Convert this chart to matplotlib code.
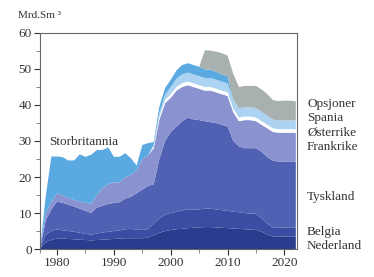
import matplotlib.pyplot as plt
import numpy as np

years = np.arange(1977, 2023)

# stacked values in Mrd. Sm3 (layer thickness)
nederland = [0, 2, 2.5, 3, 2.9, 2.8, 2.7, 2.6, 2.5, 2.4, 2.5, 2.6, 2.7, 2.8, 2.9, 3.0, 3.0, 3.0, 3.0, 3.2,
             3.8, 4.5, 5.0, 5.3, 5.5, 5.6, 5.8, 5.9, 6.0, 6.1, 6.1, 6.0, 5.9, 5.8, 5.7, 5.6, 5.5, 5.4, 5.3,
             4.8, 4.0, 3.5, 3.5, 3.5, 3.5, 3.5]
belgia_top = [0, 4, 5, 5.5, 5.2, 5.0, 4.8, 4.5, 4.2, 4.0, 4.3, 4.6, 4.8, 5.0, 5.2, 5.5, 5.6, 5.4, 5.3, 5.5,
              7.0, 8.5, 9.5, 10.0, 10.3, 10.7, 11.0, 11.0, 11.0, 11.2, 11.2, 11.0, 10.8, 10.6, 10.4, 10.2,
              10.0, 9.8, 9.8, 8.5, 7.0, 6.0, 6.0, 6.0, 6.0, 6.0]
tyskland_top = [0, 8, 11, 13.2, 12.8, 12.3, 11.8, 11.2, 10.6, 10.0, 11.5, 12.0, 12.5, 12.8, 13.0, 14.0, 14.5,
                15.5, 16.5, 17.5, 18.0, 25.0, 30.0, 32.5, 34.0, 35.5, 36.5, 36.0, 35.8, 35.5, 35.2, 35.0,
                34.5, 34.0, 30.0, 28.5, 28.0, 28.0, 28.0, 27.0, 25.5, 24.5, 24.3, 24.3, 24.3, 24.3]
frankrike_top = [0, 10, 13, 15.5, 14.8, 14.2, 13.6, 13.2, 12.8, 12.6, 15.0, 17.0, 18.0, 18.5, 18.5, 20.0,
                 20.5, 22.0, 25.0, 26.0, 28.0, 36.0, 40.5, 42.0, 44.0, 45.0, 45.5, 45.0, 44.5, 44.0, 44.0,
                 43.5, 43.0, 42.5, 38.0, 35.5, 35.8, 35.8, 35.5, 34.5, 33.5, 32.5, 32.3, 32.3, 32.3, 32.3]
osterrike = [0] * 20 + [0.5, 0.8, 0.9, 1.0, 1.0, 1.0, 1.0, 1.0, 1.0, 1.0, 1.0, 1.0, 1.0, 1.0, 1.0, 1.0, 1.0,
                        1.0, 1.0, 1.0, 1.0, 1.0, 1.0, 1.0, 1.0, 1.0]
spania = [0] * 20 + [0.5, 1.0, 1.5, 2.0, 2.3, 2.5, 2.5, 2.5, 2.5, 2.5, 2.5, 2.5, 2.5, 2.5, 2.5, 2.6, 2.6,
                     2.6, 2.6, 2.6, 2.5, 2.4, 2.4, 2.4, 2.4, 2.4]
storbritannia = [0, 4.6, 12.7, 10.2, 10.7, 10.4, 11.0, 13.1, 12.8, 13.6, 12.5, 10.5, 10.2, 7.1, 7.1, 6.6,
                 4.7, 1.2, 3.9, 3.4, 0.7, 1.8, 1.8, 2.0, 2.3, 2.6, 2.6, 2.6, 2.6, 2.4, 2.3, 2.2, 2.0, 2.0,
                 0, 0, 0, 0, 0, 0, 0, 0, 0, 0, 0, 0]
opsjoner = [0] * 28 + [0, 5.3, 5.3, 5.6, 5.9, 5.7, 7.1, 5.9, 5.9, 5.9, 6.2, 6.2, 6.0, 5.4, 5.4, 5.5, 5.5, 5.3]

labels = ["Nederland", "Belgia", "Tyskland", "Frankrike", "Østerrike", "Spania", "Storbritannia", "Opsjoner"]
colors = ["#2b3b8e", "#3b4da2", "#5060b2", "#8a92cf", "#ffffff", "#acd3f1", "#5ba9e1", "#a9b1b0"]

belgia = np.array(belgia_top) - np.array(nederland)
tyskland = np.array(tyskland_top) - np.array(belgia_top)
frankrike = np.array(frankrike_top) - np.array(tyskland_top)

plt.rcParams['font.family'] = 'Liberation Serif'
fig = plt.figure(figsize=(3.74, 2.77), dpi=100)
ax = fig.add_axes([0.107, 0.101, 0.687, 0.78])

ax.stackplot(years, nederland, belgia, tyskland, frankrike, osterrike, spania, storbritannia, opsjoner,
             colors=colors, linewidth=0)

ax.set_xlim(1977, 2022.2)
ax.set_ylim(0, 60)
ax.set_xticks([1980, 1990, 2000, 2010, 2020])
ax.set_xticks([1977, 1985, 1995, 2005, 2015], minor=True)
ax.set_yticks(range(0, 61, 10))
ax.set_yticks(range(5, 60, 10), minor=True)
ax.tick_params(labelsize=9.5, colors="#333333", length=4, width=0.8, pad=2)
ax.tick_params(which="minor", length=3, width=0.6, colors="#777777")
for s in ax.spines.values():
    s.set_color("#666666")
    s.set_linewidth(0.8)

fig.text(0.048, 0.945, "Mrd.Sm ³", fontsize=8, color="#333333", va="center")
ax.text(1984.7, 29.7, "Storbritannia", fontsize=9.5, color="#333333", ha="center", va="center")

side = [("Opsjoner", 104), ("Spania", 118), ("Østerrike", 133), ("Frankrike", 147),
        ("Tyskland", 197), ("Belgia", 232), ("Nederland", 246)]
for name, py in side:
    fig.text(307 / 374, 1 - py / 277, name, fontsize=9.5, color="#333333", va="center")

fig.savefig("out.png", dpi=100)
